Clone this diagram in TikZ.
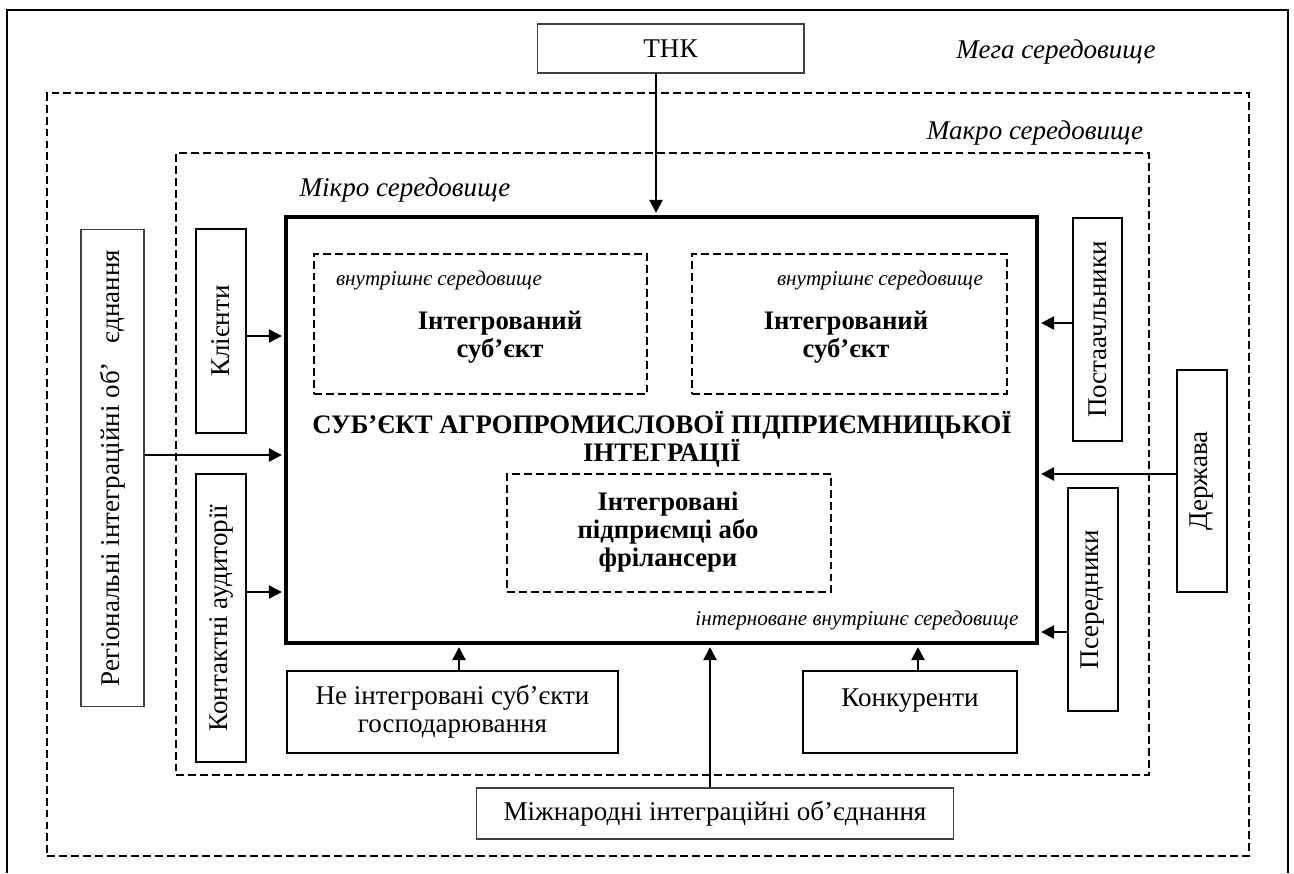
\documentclass[tikz,border=0pt]{standalone}
\usepackage{graphicx}
\usepackage{fontspec}
\setmainfont{Liberation Serif}
\usetikzlibrary{arrows.meta}

\begin{document}
\begin{tikzpicture}[x=0.02cm,y=-0.02cm,
	box/.style={draw,line width=1pt,inner sep=0pt,align=center,font=\fontsize{15.4}{16}\selectfont},
	thinbox/.style={box,draw=black!75,line width=0.6pt},
	envbox/.style={draw,dash pattern=on 4.5pt off 2.3pt,line width=0.9pt,inner sep=0pt},
	envlbl/.style={font=\fontsize{15.4}{16}\selectfont\itshape},
	smalllbl/.style={font=\fontsize{12}{13}\selectfont\itshape},
	boldtxt/.style={align=center,font=\fontsize{15.2}{16}\selectfont\bfseries},
	arr/.style={-{Triangle[length=0.26cm,width=0.27cm]},line width=0.8pt,shorten >=1.2pt}]
	\useasboundingbox (0,0) rectangle (1294,873);
	\draw[line width=1pt] (7,873) -- (7,10) -- (1288,10) -- (1288,873);
	\node[envbox,minimum width=24.04cm,minimum height=15.26cm] (mega) at (648,474.5) {};
	\node[envbox,minimum width=19.46cm,minimum height=12.44cm] (macro) at (662.5,464) {};
	\node[envlbl] (megalbl) at (1056,52) {Мега середовище};
	\node[envlbl] (macrolbl) at (1035,133) {Макро середовище};
	\node[envlbl] (microlbl) at (405,190) {Мікро середовище};
	\node[draw,line width=2.45pt,inner sep=0pt,minimum width=15.02cm,minimum height=8.52cm] (main) at (661.5,430) {};
	\node[envbox,minimum width=6.66cm,minimum height=2.8cm] (inA) at (480.5,324) {};
	\node[envbox,minimum width=6.3cm,minimum height=2.8cm] (inB) at (849.5,324) {};
	\node[envbox,minimum width=6.48cm,minimum height=2.36cm] (inC) at (669,533) {};
	\node[smalllbl] (inAlbl) at (439,280) {внутрішнє середовище};
	\node[smalllbl] (inBlbl) at (880,280) {внутрішнє середовище};
	\node[boldtxt] (inAtxt) at (500,337) {Інтегрований\\суб’єкт};
	\node[boldtxt] (inBtxt) at (846,337) {Інтегрований\\суб’єкт};
	\node[boldtxt] (inCtxt) at (668,532) {Інтегровані\\підприємці або\\фрілансери};
	\node[boldtxt] (title) at (662,439) {СУБ’ЄКТ АГРОПРОМИСЛОВОЇ ПІДПРИЄМНИЦЬКОЇ\\ІНТЕГРАЦІЇ};
	\node[smalllbl] (mainlbl) at (857,620) {інтерноване внутрішнє середовище};
	\node[thinbox,minimum width=5.34cm,minimum height=0.98cm] (tnk) at (670.5,48.5) {ТНК};
	\node[thinbox,minimum width=1.26cm,minimum height=9.56cm] (reg) at (112.5,468) {\rotatebox{90}{Регіональні інтеграційні об’\hspace{0.7em}єднання}};
	\node[box,minimum width=1cm,minimum height=4.08cm] (kli) at (221,331) {\rotatebox{90}{Клієнти}};
	\node[box,minimum width=1cm,minimum height=5.76cm] (kont) at (221,618) {\rotatebox{90}{Контактні аудиторії}};
	\node[box,minimum width=0.98cm,minimum height=4.46cm] (post) at (1097.5,329.5) {\rotatebox{90}{Постаачльники}};
	\node[box,minimum width=1cm,minimum height=4.46cm] (poser) at (1093,599.5) {\rotatebox{90}{Псередники}};
	\node[box,minimum width=1cm,minimum height=4.44cm] (derzh) at (1202,481) {\rotatebox{90}{Держава}};
	\node[box,minimum width=6.62cm,minimum height=1.64cm] (neint) at (452.5,712) {Не інтегровані суб’єкти\\господарювання};
	\node[box,minimum width=4.28cm,minimum height=1.64cm] (konk) at (910,712) {Конкуренти\\~};
	\node[thinbox,minimum width=9.56cm,minimum height=1.02cm] (mizh) at (715,813.5) {Міжнародні інтеграційні об’єднання};
	\draw[arr] (656,0 |- tnk.south) -- (656,0 |- main.north);
	\draw[arr] (reg.east |- 0,455) -- (main.west |- 0,455);
	\draw[arr] (kli.east |- 0,336) -- (main.west |- 0,336);
	\draw[arr] (kont.east |- 0,592) -- (main.west |- 0,592);
	\draw[arr] (post.west |- 0,323) -- (main.east |- 0,323);
	\draw[arr] (derzh.west |- 0,474) -- (main.east |- 0,474);
	\draw[arr] (poser.west |- 0,632) -- (main.east |- 0,632);
	\draw[arr] (459,0 |- neint.north) -- (459,0 |- main.south);
	\draw[arr] (918,0 |- konk.north) -- (918,0 |- main.south);
	\draw[arr] (710,0 |- mizh.north) -- (710,0 |- main.south);
\end{tikzpicture}
\end{document}
